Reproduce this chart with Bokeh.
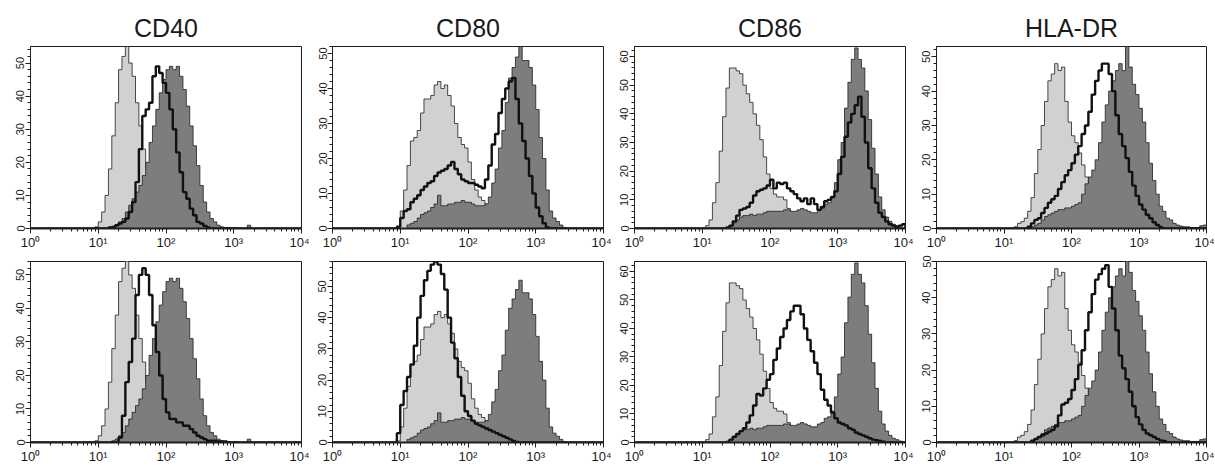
import numpy as np
from bokeh.plotting import figure
from bokeh.layouts import column, row
from bokeh.models import FixedTicker, SingleIntervalTicker, Range1d
from bokeh.embed import file_html
from bokeh.resources import INLINE

markers = ["CD40", "CD80", "CD86", "HLA-DR"]

# instrument channel grid: 20 channels per decade from 10^0 to 10^4
n_channels = 80
channel_edges = 10 ** (np.arange(n_channels + 1) / 20)

x_tick_values = [1, 10, 100, 1000, 10000]
x_tick_labels = ["10⁰", "10¹", "10²", "10³", "10⁴"]

# y-axis upper limits per panel (row 1, row 2)
ymax_top = [55, 52, 63.5, 53]
ymax_bottom = [54, 58, 63.5, 50]

# ---- histograms: (first channel index, counts) ----
# light grey (control)
cd40_ctrl_start = 19
cd40_ctrl = [0.5, 2, 5, 10, 18, 28, 38, 48, 52, 55, 50, 46, 38, 31, 24, 18, 12, 8, 5, 3, 1.5, 1, 0.5]
cd80_ctrl_start = 19
cd80_ctrl = [0.5, 5, 11, 18, 25, 26, 28, 33, 37, 37, 38, 41, 42, 40, 41, 38, 35, 30, 26, 24, 23, 19, 14, 11,
             9, 8, 7, 6, 5, 4, 3, 2, 1.5, 1, 0.5, 0.3]
cd86_ctrl_start = 21
cd86_ctrl = [1, 3, 9, 16, 27, 39, 49, 56, 56, 55, 54, 50, 47, 44, 40, 36, 31, 25, 19, 14, 12, 11, 11, 10,
             7, 5, 4, 3, 2.5, 2, 1.5, 1, 0.5, 0.5, 0.3, 0.3]
hla_ctrl_start = 23
hla_ctrl = [0.5, 1.5, 2, 3, 5, 9, 16, 23, 30, 37, 43, 45, 48, 46, 47, 37, 31, 27, 25, 22, 18.5, 15, 11.5,
            9, 7, 5.5, 4.5, 3.5, 2.5, 2, 1.5, 1, 0.5, 0.3]

# dark grey (positive reference)
cd40_pos_start = 24
cd40_pos = [0.5, 1, 2, 3, 5, 7, 9, 11, 13, 16, 20, 26, 31, 36, 41, 45, 48, 49, 48, 49, 46, 42, 37, 31, 25,
            19, 13, 8, 5, 3, 2, 1, 0.5, 0.3, 0.3, 0, 0.3, 0, 0, 0, 1]
cd80_pos_start = 22
cd80_pos = [1, 1.5, 2, 3, 4, 4.5, 5, 6, 7, 9.5, 6.5, 6.5, 7, 7, 7.5, 7.5, 8, 7.5, 7.5, 7, 6.5, 6.5, 6.5, 7,
            9, 13, 17, 23, 28, 36, 43, 46, 49, 52, 48, 48, 46, 41, 34, 26, 20, 11, 5, 3, 2, 1, 0.3]
cd86_pos_start = 27
cd86_pos = [0.5, 1, 2, 3, 4, 4.5, 4.5, 5, 4.5, 5, 5, 5.5, 6, 6, 6, 6, 6, 6.5, 6.5, 6, 6, 6.5, 7, 6.5, 6,
            5.5, 5.5, 6.5, 7, 8.5, 9, 11, 16, 24, 30, 42, 51, 59, 63, 59, 56, 48, 38, 28, 19, 11, 6.5, 4,
            2.5, 1.5, 1, 0.5, 0.3]
hla_pos_start = 28
hla_pos = [0.5, 1, 1.5, 2.5, 3.5, 4, 4.5, 5, 5.5, 5.5, 6, 6, 6.5, 7, 7.5, 10, 13, 15, 17, 20, 25, 31, 36,
           40, 43, 46, 48, 46, 53, 47, 42, 39, 35, 31, 25, 19, 14, 10, 6.5, 5, 3, 2.5, 1.5, 1, 0.7, 0.5,
           0.5, 0.3, 0.3, 0.3, 0.8, 1]

# black line, row 1
cd40_row1_start = 23
cd40_row1 = [0.3, 0.5, 1, 1.5, 2, 3, 5, 8, 14, 24, 34, 36, 38, 46, 49, 47, 44, 41, 36, 30, 23, 17, 11, 9,
             6, 4, 2, 1.5, 0.8, 0.3]
cd80_row1_start = 19
cd80_row1 = [0.5, 3, 5, 5.5, 7.5, 8.5, 9.5, 11, 12, 13, 13.5, 15, 16, 16.5, 17, 18, 19, 17, 15.5, 14,
             13.5, 13, 13, 12.5, 12, 11.5, 14, 18, 24, 27, 33, 37, 40, 42, 43, 37, 30, 25, 20, 15, 10, 6,
             3.5, 1.5, 0.3]
cd86_row1_start = 27
cd86_row1 = [0.3, 1, 2.5, 4.5, 6.5, 7, 7.5, 9, 11.5, 13, 13.5, 14, 15, 17, 14, 16, 15.5, 16, 14, 13, 12,
             10.5, 9.5, 10.5, 8.5, 10.5, 8.5, 6.5, 7.5, 9.5, 10, 11, 13, 19, 25, 32, 37, 40, 43, 46, 39,
             30, 21, 14, 9, 5.5, 4, 2.5, 1.5, 1, 0.5, 1, 1.5]
hla_row1_start = 27
hla_row1 = [0.5, 1.5, 2.5, 3, 4.5, 6, 7.5, 8.5, 9.5, 11.5, 13.5, 15.5, 17, 19, 21.5, 24, 27.5, 30, 34, 39,
            43, 46, 48, 48, 45, 40, 33, 27.5, 24, 20.5, 16.5, 12.5, 9.5, 7, 5.5, 4, 3, 1.8, 1, 0.4]

# black line, row 2
cd40_row2_start = 26
cd40_row2 = [1.5, 8, 18, 24, 31, 44, 50, 52, 50, 44, 35, 27, 20, 13, 9, 7, 7, 6, 6, 5, 5, 4, 3, 2, 1.5,
             1, 0.5, 0.5, 0.5, 0.3, 0.3, 0.3]
cd80_row2_start = 19
cd80_row2 = [3, 12, 16.5, 21, 25, 31, 40, 47, 52, 55, 57, 58, 57, 54, 49, 40, 32, 27, 21, 15, 10, 8.5, 7,
             6, 5.5, 5, 4.5, 4, 3.5, 3, 2.5, 2, 1.5, 1, 0.5, 0.2]
cd86_row2_start = 28
cd86_row2 = [1, 2, 3, 4, 5, 7, 9.5, 13, 17, 16.5, 19, 22, 24, 29, 33, 37, 40, 43, 46, 48, 48, 45, 40, 36,
             32, 28, 24, 18.5, 15, 13, 10.5, 8.5, 7, 6.5, 6, 5, 4.5, 3.5, 3, 2.5, 2, 1.5, 1, 0.8, 0.5, 0.3]
hla_row2_start = 28
hla_row2 = [0.5, 1, 1.5, 2, 2.5, 3, 3.5, 4.5, 7.5, 10.5, 11, 12, 14.5, 17.5, 21.5, 25.5, 31, 36, 41, 45,
            46.5, 48, 49, 43, 37, 31, 24, 20.5, 17.5, 14, 10, 7, 5, 3.5, 2.5, 2, 1.5, 1, 0.6, 0.4]

ctrl = [(cd40_ctrl_start, cd40_ctrl), (cd80_ctrl_start, cd80_ctrl), (cd86_ctrl_start, cd86_ctrl), (hla_ctrl_start, hla_ctrl)]
pos = [(cd40_pos_start, cd40_pos), (cd80_pos_start, cd80_pos), (cd86_pos_start, cd86_pos), (hla_pos_start, hla_pos)]
row1 = [(cd40_row1_start, cd40_row1), (cd80_row1_start, cd80_row1), (cd86_row1_start, cd86_row1), (hla_row1_start, hla_row1)]
row2 = [(cd40_row2_start, cd40_row2), (cd80_row2_start, cd80_row2), (cd86_row2_start, cd86_row2), (hla_row2_start, hla_row2)]


def full_counts(entry):
    start, values = entry
    arr = np.zeros(n_channels + 1)
    arr[start:start + len(values)] = values
    return arr


LIGHT = "#d0d1d3"
DARK = "#7c7d7f"
EDGE = "#1e1e1e"
FONT = "Liberation Sans"

minor_x = [k * 10 ** d for d in range(4) for k in range(2, 10)]

col_width = [309, 302, 302, 301]
col_left = [30, 23, 23, 23]


def panel(i, black, ymax, top):
    kw = dict(width=col_width[i], x_axis_type="log", x_range=Range1d(1, 10000), y_range=Range1d(0, ymax),
              output_backend="svg", toolbar_location=None, min_border_left=col_left[i], min_border_right=8)
    if top:
        p = figure(height=252, title=markers[i], min_border_top=46, min_border_bottom=22, **kw)
        p.title.align = "center"
        p.title.text_font = FONT
        p.title.text_font_size = "25px"
        p.title.text_font_style = "normal"
        p.title.text_color = "#1a1a1a"
        p.title.standoff = 10
    else:
        p = figure(height=214, min_border_top=9, min_border_bottom=21, **kw)
    c = full_counts(ctrl[i])
    d = full_counts(pos[i])
    b = full_counts(black)
    p.varea_step(x=channel_edges, y1=0, y2=c, step_mode="after", fill_color=LIGHT)
    p.step(x=channel_edges, y=c, mode="after", line_color=EDGE, line_width=0.8)
    p.varea_step(x=channel_edges, y1=0, y2=d, step_mode="after", fill_color=DARK)
    p.step(x=channel_edges, y=d, mode="after", line_color=EDGE, line_width=0.8)
    p.step(x=channel_edges, y=b, mode="after", line_color="#111111", line_width=2.4)

    p.xgrid.visible = False
    p.ygrid.visible = False
    p.outline_line_color = EDGE
    p.outline_line_width = 1
    p.outline_line_alpha = 1

    p.xaxis.ticker = FixedTicker(ticks=x_tick_values, minor_ticks=minor_x)
    p.xaxis.major_label_overrides = dict(zip(x_tick_values, x_tick_labels))
    p.yaxis.ticker = SingleIntervalTicker(interval=10, num_minor_ticks=5)
    p.yaxis.major_label_orientation = "vertical"

    for ax in (p.xaxis[0], p.yaxis[0]):
        ax.axis_line_color = EDGE
        ax.major_tick_line_color = EDGE
        ax.minor_tick_line_color = EDGE
        ax.major_tick_in = 0
        ax.major_tick_out = 5
        ax.minor_tick_in = 0
        ax.minor_tick_out = 3
        ax.major_label_text_font = FONT
        ax.major_label_text_color = "#1a1a1a"
        ax.major_label_standoff = 1
    p.xaxis.axis_line_width = 2
    p.xaxis.major_label_text_font_size = "13px"
    p.yaxis.major_label_text_font_size = "11px"
    return p


top_row = [panel(i, row1[i], ymax_top[i], True) for i in range(4)]
bottom_row = [panel(i, row2[i], ymax_bottom[i], False) for i in range(4)]

layout = column(row(*top_row), row(*bottom_row))
open("out.html", "w").write(file_html(layout, INLINE))
